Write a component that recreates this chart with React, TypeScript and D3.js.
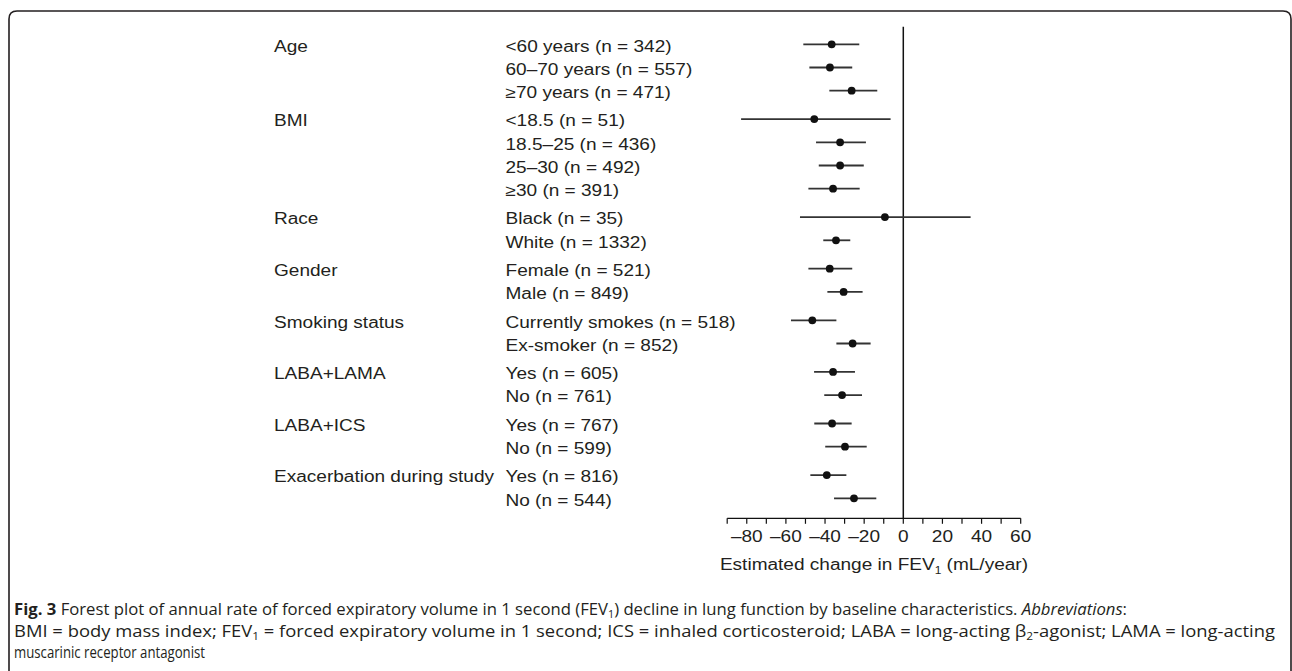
import React from "react";
import * as d3 from "d3";

const groups = ["Age", "BMI", "Race", "Gender", "Smoking status", "LABA+LAMA", "LABA+ICS", "Exacerbation during study"];
const subgroups = [
  "<60 years (n = 342)", "60–70 years (n = 557)", "≥70 years (n = 471)",
  "<18.5 (n = 51)", "18.5–25 (n = 436)", "25–30 (n = 492)", "≥30 (n = 391)",
  "Black (n = 35)", "White (n = 1332)",
  "Female (n = 521)", "Male (n = 849)",
  "Currently smokes (n = 518)", "Ex-smoker (n = 852)",
  "Yes (n = 605)", "No (n = 761)",
  "Yes (n = 767)", "No (n = 599)",
  "Yes (n = 816)", "No (n = 544)",
];
const groupOf = [0, 0, 0, 1, 1, 1, 1, 2, 2, 3, 3, 4, 4, 5, 5, 6, 6, 7, 7];
const estimate = [-36.6, -37.5, -26.4, -45.5, -32.3, -32.3, -35.9, -9.4, -34.4, -37.6, -30.5, -46.5, -25.9, -35.9, -31.3, -36.4, -29.8, -39.1, -25.2];
const lower = [-51.1, -48.0, -37.8, -82.9, -44.6, -43.2, -48.5, -52.8, -40.9, -48.5, -38.8, -57.4, -34.2, -45.6, -40.4, -45.5, -39.9, -47.5, -35.4];
const upper = [-22.5, -26.1, -13.3, -6.5, -19.1, -20.2, -22.3, 34.4, -27.1, -26.1, -20.8, -34.2, -16.7, -24.7, -21.1, -26.4, -18.7, -29.1, -13.8];
const xDomain = [-90, 60];
const xTickLabels = [-80, -60, -40, -20, 0, 20, 40, 60];

const GAP = 0.224;
const FONT = "'Liberation Sans', Arial, Helvetica, sans-serif";
const SX = 1.19;
const TXT = "#231f20";

export default function App() {
  const x = d3.scaleLinear().domain(xDomain).range([727.2, 1020.7]);
  const pos = subgroups.map((_, i) => i + groupOf[i] * GAP);
  const y = d3.scaleLinear().domain([0, d3.max(pos) as number]).range([44.3, 498.3]);
  const axisY = 518.3;
  const minorTicks = d3.range(xDomain[0], xDomain[1] + 1, 10);
  const firstOfGroup = groups.map((_, g) => groupOf.indexOf(g));
  const fmt = (v: number) => (v < 0 ? "–" + Math.abs(v) : String(v));

  return (
    <svg width={1292} height={671} style={{ position: "absolute", left: 0, top: 0, background: "#fff" }}>
      <rect width={1292} height={671} fill="#fff" />
      <path d="M9,690 V19 Q9,11 17,11 H1283 Q1291,11 1291,19 V690" fill="none" stroke={TXT} strokeWidth={1.6} />

      {groups.map((g, gi) => (
        <text key={g} transform={`translate(274,${y(pos[firstOfGroup[gi]]) + 7.3}) scale(${SX},1)`}
          fontFamily={FONT} fontSize={16} fill={TXT}>{g}</text>
      ))}
      {subgroups.map((s, i) => (
        <text key={i} transform={`translate(505.5,${y(pos[i]) + 7.3}) scale(${SX},1)`}
          fontFamily={FONT} fontSize={16} fill={TXT}>{s}</text>
      ))}

      <line x1={x(0)} x2={x(0)} y1={26.7} y2={axisY} stroke="#111" strokeWidth={1.5} />

      {subgroups.map((_, i) => (
        <g key={"m" + i}>
          <line x1={x(lower[i])} x2={x(upper[i])} y1={y(pos[i])} y2={y(pos[i])} stroke="#333" strokeWidth={1.8} />
          <circle cx={x(estimate[i])} cy={y(pos[i])} r={3.9} fill="#111" />
        </g>
      ))}

      <line x1={x(xDomain[0])} x2={x(xDomain[1])} y1={axisY} y2={axisY} stroke="#111" strokeWidth={1.3} />
      {minorTicks.map((t) => (
        <line key={t} x1={x(t)} x2={x(t)} y1={axisY} y2={axisY + 5.5} stroke="#111" strokeWidth={1.2} />
      ))}
      {xTickLabels.map((t) => (
        <text key={t} transform={`translate(${x(t)},${541.5}) scale(${SX},1)`} textAnchor="middle"
          fontFamily={FONT} fontSize={16} fill={TXT}>{fmt(t)}</text>
      ))}
      <text transform={`translate(${(x(xDomain[0]) + x(xDomain[1])) / 2},569.5) scale(${SX},1)`} textAnchor="middle"
        fontFamily={FONT} fontSize={16} fill={TXT}>
        Estimated change in FEV<tspan fontSize={10} dy={4}>1</tspan><tspan dy={-4}> (mL/year)</tspan>
      </text>

      <g fontFamily="'Open Sans', 'Noto Sans', sans-serif" fontSize={15.5} fill={TXT}>
        <text x={14} y={615} textLength={1113} lengthAdjust="spacingAndGlyphs">
          <tspan fontWeight="bold">Fig. 3</tspan> Forest plot of annual rate of forced expiratory volume in 1 second (FEV<tspan fontSize={10} dy={3}>1</tspan><tspan dy={-3}>) decline in lung function by baseline characteristics. </tspan><tspan fontStyle="italic">Abbreviations</tspan>:
        </text>
        <text x={14} y={637} textLength={1261} lengthAdjust="spacingAndGlyphs">
          BMI = body mass index; FEV<tspan fontSize={10} dy={3}>1</tspan><tspan dy={-3}> = forced expiratory volume in 1 second; ICS = inhaled corticosteroid; LABA = long-acting β</tspan><tspan fontSize={10} dy={3}>2</tspan><tspan dy={-3}>-agonist; LAMA = long-acting</tspan>
        </text>
        <text x={14} y={658} textLength={191} lengthAdjust="spacingAndGlyphs">muscarinic receptor antagonist</text>
      </g>
    </svg>
  );
}
